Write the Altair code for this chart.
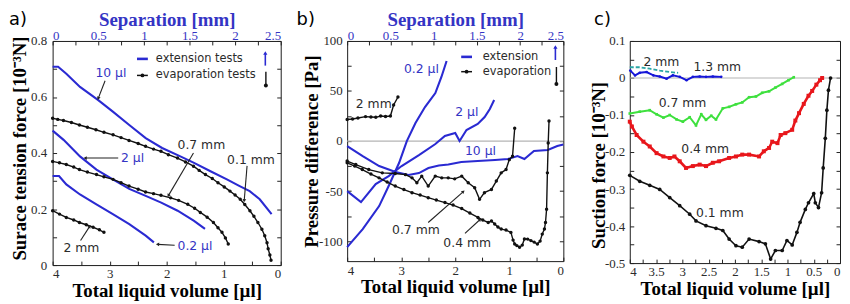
import math
import altair as alt
import pandas as pd

BLUE = "#2a2ad2"
BLUE_TXT = "#3434c4"
INK = "#2b2b2b"
SERIF = "Liberation Serif"
SANS = "DejaVu Sans"

# ---------------- Panel a : surface tension force ----------------
A10_S = [0.00, 0.06, 0.15, 0.30, 0.50, 0.66, 0.84, 1.02, 1.20, 1.40, 1.55, 1.73, 1.91, 2.05, 2.16, 2.27, 2.40]
A10_F = [0.708, 0.708, 0.683, 0.636, 0.589, 0.548, 0.500, 0.453, 0.418, 0.388, 0.365, 0.335, 0.306, 0.282, 0.264, 0.235, 0.182]
A2_S = [0.00, 0.12, 0.30, 0.48, 0.66, 0.84, 1.02, 1.19, 1.37, 1.55, 1.67]
A2_F = [0.480, 0.447, 0.388, 0.341, 0.306, 0.272, 0.247, 0.223, 0.194, 0.158, 0.129]
A02_S = [0.00, 0.07, 0.15, 0.30, 0.48, 0.66, 0.84, 1.02, 1.11]
A02_F = [0.318, 0.318, 0.288, 0.252, 0.217, 0.182, 0.146, 0.105, 0.081]

AE01_V = [4.00, 3.91, 3.81, 3.67, 3.53, 3.39, 3.24, 3.10, 2.94, 2.80, 2.66, 2.50, 2.37, 2.23, 2.10, 1.97, 1.81, 1.67, 1.53, 1.43,
          1.32, 1.20, 1.10, 0.99, 0.89, 0.80, 0.71, 0.63, 0.54, 0.47, 0.40, 0.33, 0.28, 0.24, 0.22, 0.19, 0.17]
AE01_F = [0.524, 0.520, 0.516, 0.509, 0.500, 0.492, 0.483, 0.474, 0.465, 0.455, 0.445, 0.434, 0.424, 0.414, 0.406, 0.394, 0.382, 0.368, 0.353, 0.338,
          0.323, 0.309, 0.294, 0.279, 0.264, 0.250, 0.235, 0.216, 0.194, 0.174, 0.152, 0.128, 0.105, 0.080, 0.058, 0.036, 0.017]
AE07_V = [4.00, 3.88, 3.76, 3.63, 3.53, 3.39, 3.23, 3.10, 2.94, 2.80, 2.66, 2.50, 2.37, 2.23, 2.10, 1.93, 1.79, 1.63, 1.51, 1.41,
          1.29, 1.18, 1.10, 1.03, 0.97, 0.92]
AE07_F = [0.370, 0.365, 0.359, 0.350, 0.341, 0.332, 0.323, 0.315, 0.306, 0.294, 0.282, 0.271, 0.261, 0.255, 0.249, 0.240, 0.231, 0.217, 0.203, 0.188,
          0.171, 0.152, 0.133, 0.117, 0.097, 0.075]
AE2_V = [4.00, 3.88, 3.76, 3.63, 3.53, 3.41, 3.29, 3.18, 3.10]
AE2_F = [0.194, 0.182, 0.170, 0.161, 0.152, 0.144, 0.135, 0.126, 0.117]

A_TXT = ["10 µl", "2 µl", "2 mm", "0.2 µl", "0.7 mm", "0.1 mm", "extension tests", "evaporation tests"]
A_TXT_V = [3.25, 2.80, 3.81, 1.81, 1.81, 0.94, 2.19, 2.19]
A_TXT_F = [0.687, 0.382, 0.060, 0.067, 0.428, 0.375, 0.736, 0.677]
A_ARR_V1 = [3.08, 2.85, 3.51, 1.86, 1.53, 0.59]
A_ARR_F1 = [0.658, 0.382, 0.088, 0.071, 0.400, 0.354]
A_ARR_V2 = [3.20, 3.43, 3.35, 2.16, 1.97, 0.64]
A_ARR_F2 = [0.595, 0.382, 0.138, 0.074, 0.248, 0.230]
A_LEG_V = [2.52, 2.33, 0.27, 0.26]   # dash start, dash end, arrow x (ext), arrow x (evap)
A_LEG_F = [0.736, 0.677, 0.712, 0.757, 0.690, 0.641]

# ---------------- Panel b : pressure difference ----------------
B02_S = [0.00, 0.18, 0.37, 0.48, 0.60, 0.69, 0.79, 0.90, 1.02, 1.09, 1.15]
B02_P = [-106, -88, -65, -45, -22, 0, 18, 34, 48, 64, 80]
B2_S = [0.00, 0.16, 0.33, 0.48, 0.63, 0.83, 1.02, 1.13, 1.25, 1.30, 1.38, 1.51, 1.59, 1.65, 1.70]
B2_P = [-50, -61, -43, -35, -25, -14, -3, 5, 8, 0, 11, 17, 24, 32, 41]
B10_S = [0.00, 0.18, 0.37, 0.56, 0.71, 0.83, 0.94, 1.06, 1.17, 1.32, 1.51, 1.71, 1.86, 1.97, 2.05, 2.16, 2.32, 2.43, 2.50]
B10_P = [-5, -15, -25, -31, -34, -32, -27, -24.5, -23.5, -21, -20, -19, -18, -15, -18, -10, -9, -5, -3.5]

BE2_V = [4.00, 3.90, 3.80, 3.66, 3.56, 3.47, 3.38, 3.29, 3.20, 3.14, 3.06]
BE2_P = [21.5, 22.0, 23.0, 24.4, 24.0, 23.7, 25.0, 24.5, 25.0, 36.0, 44.0]
BE07_V = [4.00, 3.84, 3.60, 3.35, 3.11, 2.92, 2.80, 2.71, 2.62, 2.50, 2.37, 2.25, 2.13, 2.01, 1.88, 1.76, 1.64, 1.55, 1.46, 1.33,
          1.24, 1.15, 1.06, 1.00, 0.94, 0.90]
BE07_P = [-20.0, -23.5, -28.5, -31.8, -32.5, -33.6, -36.8, -41.7, -35.1, -45.0, -35.1, -36.8, -36.8, -37.8, -35.1, -41.7, -46.7, -58.3, -51.6, -48.4,
          -40.0, -31.8, -28.5, -18.6, -15.2, 12.8]
BE04_V = [4.00, 3.86, 3.72, 3.56, 3.41, 3.26, 3.11, 2.95, 2.80, 2.65, 2.50, 2.35, 2.19, 2.04, 1.88, 1.73, 1.58, 1.49, 1.39, 1.33,
          1.27, 1.21, 1.15, 1.06, 0.97, 0.93, 0.90, 0.86, 0.81, 0.76, 0.72, 0.66, 0.60, 0.54, 0.48, 0.43, 0.39, 0.35, 0.33, 0.31,
          0.295, 0.28, 0.265]
BE04_P = [-21.8, -25.0, -28.5, -33.0, -36.8, -41.0, -45.0, -48.5, -51.6, -54.0, -56.6, -59.0, -61.5, -64.0, -67.5, -72.0, -76.4, -79.0, -81.4, -80.0,
          -83.0, -86.0, -88.0, -89.0, -91.3, -99.0, -102.9, -104.5, -106.1, -104.0, -97.9, -98.0, -99.5, -101.0, -102.9, -100.0, -93.0, -88.0, -81.4, -68.2,
          -31.8, -2.0, 20.0]

B_TXT = ["0.2 µl", "2 µl", "10 µl", "2 mm", "0.7 mm", "0.4 mm", "extension", "evaporation"]
B_TXT_V = [2.95, 2.00, 1.82, 3.84, 3.17, 2.22, 1.49, 1.49]
B_TXT_P = [72.0, 28.6, -10.0, 36.6, -89.3, -102.2, 84.1, 69.3]
B_ARR_V1 = [2.50, 1.82]
B_ARR_P1 = [-81.4, -92.3]
B_ARR_V2 = [1.85, 1.54]
B_ARR_P2 = [-50.6, -78.4]
B_LEG_V = [1.89, 1.69, 0.147, 0.128]
B_LEG_P = [84.1, 69.3, 81.0, 94.0, 74.0, 57.0]

# ---------------- Panel c : suction force ----------------
C01_V = [4.00, 3.81, 3.62, 3.43, 3.24, 3.05, 2.86, 2.74, 2.55, 2.36, 2.23, 2.11, 1.98, 1.86, 1.73, 1.54, 1.42, 1.32, 1.23, 1.10,
         1.01, 0.91, 0.82, 0.76, 0.66, 0.60, 0.50, 0.47, 0.41, 0.35, 0.32, 0.28, 0.25, 0.22, 0.18]
C01_S = [-0.263, -0.279, -0.290, -0.301, -0.323, -0.345, -0.368, -0.386, -0.399, -0.406, -0.412, -0.435, -0.453, -0.457, -0.435, -0.442, -0.448, -0.489, -0.466, -0.466,
         -0.439, -0.451, -0.417, -0.390, -0.355, -0.337, -0.312, -0.337, -0.350, -0.310, -0.243, -0.163, -0.087, -0.033, 0.000]
C04_V = [4.00, 3.96, 3.87, 3.74, 3.62, 3.49, 3.36, 3.24, 3.15, 3.05, 2.93, 2.80, 2.67, 2.55, 2.42, 2.30, 2.11, 1.98, 1.86, 1.73,
         1.54, 1.45, 1.35, 1.29, 1.19, 1.13, 1.04, 0.91, 0.85, 0.78, 0.69, 0.60, 0.53, 0.45, 0.38, 0.34]
C04_S = [-0.118, -0.131, -0.154, -0.172, -0.185, -0.203, -0.212, -0.216, -0.212, -0.225, -0.243, -0.238, -0.234, -0.238, -0.229, -0.225, -0.216, -0.212, -0.207, -0.207,
         -0.212, -0.198, -0.189, -0.172, -0.176, -0.154, -0.149, -0.140, -0.115, -0.095, -0.070, -0.048, -0.035, -0.018, -0.006, 0.000]
C07_V = [4.00, 3.81, 3.62, 3.49, 3.36, 3.24, 3.11, 2.99, 2.86, 2.74, 2.64, 2.55, 2.45, 2.36, 2.23, 2.11, 1.98, 1.86, 1.73, 1.60,
         1.48, 1.35, 1.23, 1.10, 0.98, 0.88]
C07_S = [-0.096, -0.091, -0.087, -0.098, -0.107, -0.100, -0.112, -0.118, -0.106, -0.128, -0.098, -0.113, -0.102, -0.112, -0.082, -0.078, -0.071, -0.066, -0.052, -0.050,
         -0.040, -0.036, -0.026, -0.016, -0.006, 0.002]
C13_V = [3.99, 3.90, 3.81, 3.68, 3.55, 3.43, 3.30, 3.18, 3.05, 2.92, 2.80, 2.67, 2.55, 2.42, 2.26]
C13_S = [0.020, 0.007, 0.014, 0.016, 0.007, 0.004, -0.002, 0.007, 0.003, -0.006, 0.003, 0.004, 0.003, 0.004, 0.003]
C2_V = [4.00, 3.81, 3.62, 3.43, 3.24, 3.08]
C2_S = [0.029, 0.029, 0.025, 0.020, 0.016, 0.014]

C_TXT = ["2 mm", "1.3 mm", "0.7 mm", "0.4 mm", "0.1 mm"]
C_TXT_V = [3.74, 2.79, 3.45, 3.02, 2.74]
C_TXT_S = [0.044, 0.030, -0.069, -0.192, -0.366]

# ---------------- sizes ----------------
WA, HA = 230, 226
WB, HB = 218, 222
WC, HC = 212, 224
YA = [0, 0.8]
YB = [-120, 100]
YC = [-0.5, 0.1]
MINUS = "\u2212"


def series_df(items, xcol, ycol):
    rows = []
    for name, xs, ys in items:
        for i, (x, y) in enumerate(zip(xs, ys)):
            rows.append({xcol: x, ycol: y, "series": name, "i": i})
    return pd.DataFrame(rows)


def vol_scale():
    return alt.Scale(domain=[0, 4], reverse=True, nice=False)


def yscale(dom):
    return alt.Scale(domain=dom, nice=False)


def axis(orient, values, expr=None, title=None, label_color=INK, title_color="black",
         labels=True, label_pad=5, title_pad=2, title_xy=None):
    kw = dict(orient=orient, values=values, domain=False, grid=False, ticks=True, tickSize=4, offset=-4,
              tickColor="#222", labels=labels, labelFont=SERIF, labelFontSize=13, labelColor=label_color,
              labelPadding=label_pad, titleFont=SERIF, titleFontSize=19, titleFontWeight="bold",
              titleColor=title_color, titlePadding=title_pad, title=title)
    if expr is not None:
        kw["labelExpr"] = expr
    if title_xy is not None:
        kw["titleX"] = title_xy[0]
        kw["titleY"] = title_xy[1]
        kw["titleBaseline"] = "middle"
    return alt.Axis(**kw)


def angle(x1, y1, x2, y2, W, H, ydom):
    dx = -(x2 - x1) * W / 4.0
    dy = -(y2 - y1) * H / (ydom[1] - ydom[0])
    return math.degrees(math.atan2(dx, -dy)) % 360


def text_layer(df, ydom):
    return alt.Chart(df).mark_text(align="left", baseline="middle", font=SANS).encode(
        x=alt.X("x:Q", scale=vol_scale(), axis=None),
        y=alt.Y("y:Q", scale=yscale(ydom), axis=None),
        text="t:N",
        color=alt.Color("c:N", scale=None),
        size=alt.Size("fs:Q", scale=None),
    )


def seg_layer(df, ydom):
    return alt.Chart(df).mark_rule().encode(
        x=alt.X("x:Q", scale=vol_scale(), axis=None), x2="x2:Q",
        y=alt.Y("y:Q", scale=yscale(ydom), axis=None), y2="y2:Q",
        color=alt.Color("c:N", scale=None),
        strokeWidth=alt.StrokeWidth("w:Q", scale=None),
    )


def head_layer(df, ydom):
    return alt.Chart(df).mark_point(filled=True, opacity=1).encode(
        x=alt.X("x:Q", scale=vol_scale(), axis=None),
        y=alt.Y("y:Q", scale=yscale(ydom), axis=None),
        shape=alt.Shape("shp:N", scale=None),
        angle=alt.Angle("ang:Q", scale=None),
        size=alt.Size("sz:Q", scale=None),
        color=alt.Color("c:N", scale=None),
    )


def label_layer(txt, dx):
    return alt.Chart(pd.DataFrame({"t": [txt]})).mark_text(
        align="left", baseline="middle", font=SANS, fontSize=18, color="black"
    ).encode(x=alt.value(dx), y=alt.value(-21), text="t:N")


def annot_frames(txt, tv, ty, tcol, fs, a1x, a1y, a2x, a2y, leg_v, leg_y, W, H, ydom):
    tdf = pd.DataFrame({"x": tv, "y": ty, "t": txt, "c": tcol, "fs": fs})
    segs = []
    heads = []
    for x1, y1, x2, y2 in zip(a1x, a1y, a2x, a2y):
        segs.append({"x": x1, "y": y1, "x2": x2, "y2": y2, "c": "#222", "w": 1.1})
        heads.append({"x": x2, "y": y2, "shp": "triangle-up", "ang": angle(x1, y1, x2, y2, W, H, ydom),
                      "sz": 14, "c": "#222"})
    segs.append({"x": leg_v[0], "y": leg_y[0], "x2": leg_v[1], "y2": leg_y[0], "c": BLUE, "w": 2.6})
    segs.append({"x": leg_v[0], "y": leg_y[1], "x2": leg_v[1], "y2": leg_y[1], "c": "#111", "w": 1.5})
    heads.append({"x": (leg_v[0] + leg_v[1]) / 2, "y": leg_y[1], "shp": "circle", "ang": 0, "sz": 14, "c": "#111"})
    segs.append({"x": leg_v[2], "y": leg_y[2], "x2": leg_v[2], "y2": leg_y[3], "c": BLUE, "w": 1.6})
    heads.append({"x": leg_v[2], "y": leg_y[3], "shp": "triangle-up", "ang": 0, "sz": 18, "c": BLUE})
    segs.append({"x": leg_v[3], "y": leg_y[4], "x2": leg_v[3], "y2": leg_y[5], "c": "#111", "w": 1.4})
    heads.append({"x": leg_v[3], "y": leg_y[5], "shp": "circle", "ang": 0, "sz": 16, "c": "#111"})
    return tdf, pd.DataFrame(segs), pd.DataFrame(heads)


def frame_layers(ext_df, ycol, evap_df, ydom, top_ax, left_ax, bottom_ax, right_ax):
    ext = alt.Chart(ext_df).mark_line(color=BLUE, strokeWidth=2.1).encode(
        x=alt.X("s:Q", scale=alt.Scale(domain=[0, 2.5], nice=False), axis=top_ax),
        y=alt.Y(f"{ycol}:Q", scale=yscale(ydom), axis=left_ax),
        detail="series:N", order="i:Q",
    )
    evl = alt.Chart(evap_df).mark_line(color="#111", strokeWidth=1.4).encode(
        x=alt.X("V:Q", scale=vol_scale(), axis=bottom_ax),
        y=alt.Y(f"{ycol}:Q", scale=yscale(ydom), axis=right_ax),
        detail="series:N", order="i:Q",
    )
    evp = alt.Chart(evap_df).mark_circle(color="#111", size=12, opacity=1).encode(
        x=alt.X("V:Q", scale=vol_scale(), axis=None),
        y=alt.Y(f"{ycol}:Q", scale=yscale(ydom), axis=None),
    )
    return ext, evl, evp


VOL_TICKS = [round(0.5 * k, 2) for k in range(9)]
SEP_TICKS = [round(0.25 * k, 2) for k in range(11)]
INT_EXPR = "datum.value % 1 == 0 ? format(datum.value, 'd') : ''"
SEP_EXPR = "round(datum.value * 4) % 2 == 0 ? format(datum.value, '~g') : ''"

# ---------- panel a ----------
a_ext = series_df([("10", A10_S, A10_F), ("2", A2_S, A2_F), ("0.2", A02_S, A02_F)], "s", "F")
a_evap = series_df([("0.1", AE01_V, AE01_F), ("0.7", AE07_V, AE07_F), ("2", AE2_V, AE2_F)], "V", "F")
a_top = axis("top", SEP_TICKS, SEP_EXPR, "Separation [mm]", label_color=BLUE_TXT, title_color=BLUE_TXT,
             label_pad=-1.5, title_xy=[WA / 2, -26])
a_left = axis("left", [round(0.1 * k, 2) for k in range(9)],
              "round(datum.value * 10) % 2 == 0 ? (datum.value == 0 ? '0' : format(datum.value, '.1f')) : ''",
              "Surace tension force [10\u207b\u00b3N]", label_pad=6, title_xy=[-37.5, 108])
a_bottom = axis("bottom", VOL_TICKS, INT_EXPR, "Total liquid volume [µl]", label_pad=3, title_pad=1)
a_right = axis("right", [round(0.1 * k, 2) for k in range(9)], labels=False)
ext, evl, evp = frame_layers(a_ext, "F", a_evap, YA, a_top, a_left, a_bottom, a_right)
tcol = [BLUE_TXT, BLUE_TXT, INK, BLUE_TXT, INK, INK, INK, INK]
tfs = [12.5] * 6 + [11.5, 11.5]
tdf, sdf, hdf = annot_frames(A_TXT, A_TXT_V, A_TXT_F, tcol, tfs, A_ARR_V1, A_ARR_F1, A_ARR_V2, A_ARR_F2,
                             A_LEG_V, A_LEG_F, WA, HA, YA)
panel_a = alt.layer(
    ext, evl, evp, seg_layer(sdf, YA), head_layer(hdf, YA), text_layer(tdf, YA), label_layer("a)", -44)
).resolve_scale(x="independent").resolve_axis(x="independent", y="independent").properties(width=WA, height=HA)

# ---------- panel b ----------
b_ext = series_df([("0.2", B02_S, B02_P), ("2", B2_S, B2_P), ("10", B10_S, B10_P)], "s", "P")
b_evap = series_df([("2", BE2_V, BE2_P), ("0.7", BE07_V, BE07_P), ("0.4", BE04_V, BE04_P)], "V", "P")
B_YT = [-100 + 25 * k for k in range(9)]
b_top = axis("top", SEP_TICKS, SEP_EXPR, "Separation [mm]", label_color=BLUE_TXT, title_color=BLUE_TXT,
             label_pad=-1.5, title_xy=[WB / 2, -26])
b_left = axis("left", B_YT, f"datum.value % 50 == 0 ? replace(format(datum.value, 'd'), '{MINUS}', '-') : ''",
              "Pressure difference [Pa]", label_pad=5, title_xy=[-40.3, 111])
b_bottom = axis("bottom", VOL_TICKS, INT_EXPR, "Total liquid volume [µl]", label_pad=3, title_pad=1)
b_right = axis("right", B_YT, labels=False)
ext, evl, evp = frame_layers(b_ext, "P", b_evap, YB, b_top, b_left, b_bottom, b_right)
zero_b = alt.Chart(pd.DataFrame({"y": [0]})).mark_rule(color="#b4b4b4", strokeWidth=1.2).encode(
    y=alt.Y("y:Q", scale=yscale(YB), axis=None))
tcol = [BLUE_TXT, BLUE_TXT, BLUE_TXT, INK, INK, INK, INK, INK]
tdf, sdf, hdf = annot_frames(B_TXT, B_TXT_V, B_TXT_P, tcol, tfs, B_ARR_V1, B_ARR_P1, B_ARR_V2, B_ARR_P2,
                             B_LEG_V, B_LEG_P, WB, HB, YB)
panel_b = alt.layer(
    zero_b, ext, evl, evp, seg_layer(sdf, YB), head_layer(hdf, YB), text_layer(tdf, YB), label_layer("b)", -51)
).resolve_scale(x="independent").resolve_axis(x="independent", y="independent").properties(width=WB, height=HB)

# ---------- panel c ----------
c_rows = []
for name, xs, ys, col, w, shp, sz in [
    ("0.1 mm", C01_V, C01_S, "#111111", 1.6, "circle", 14),
    ("0.4 mm", C04_V, C04_S, "#e8161b", 2.6, "square", 16),
    ("0.7 mm", C07_V, C07_S, "#3ee03e", 2.0, "square", 7),
    ("1.3 mm", C13_V, C13_S, "#1616d8", 2.0, "circle", 7),
]:
    for i, (x, y) in enumerate(zip(xs, ys)):
        c_rows.append({"V": x, "S": y, "series": name, "i": i, "c": col, "w": w, "shp": shp, "sz": sz})
c_df = pd.DataFrame(c_rows)
c_teal = series_df([("2 mm", C2_V, C2_S)], "V", "S")
C_YT = [round(-0.5 + 0.05 * k, 2) for k in range(13)]
C_XT = [round(0.25 * k, 2) for k in range(17)]
c_left = axis("left", C_YT,
              f"round(datum.value * 100) % 10 == 0 ? replace(format(datum.value, '~g'), '{MINUS}', '-') : ''",
              "Suction force [10\u207b\u00b3N]", label_pad=5, title_xy=[-35.3, 125])
c_right = axis("right", C_YT, labels=False)
c_bottom = axis("bottom", C_XT, SEP_EXPR, "Total liquid volume [µl]", label_pad=3, title_pad=1)
zero_c = alt.Chart(pd.DataFrame({"y": [0]})).mark_rule(color="#b4b4b4", strokeWidth=1.2).encode(
    y=alt.Y("y:Q", scale=yscale(YC), axis=None))
c_lines = alt.Chart(c_df).mark_line().encode(
    x=alt.X("V:Q", scale=vol_scale(), axis=c_bottom),
    y=alt.Y("S:Q", scale=yscale(YC), axis=c_left),
    detail="series:N", order="i:Q",
    color=alt.Color("c:N", scale=None),
    strokeWidth=alt.StrokeWidth("w:Q", scale=None),
)
c_pts = alt.Chart(c_df).mark_point(filled=True, opacity=1).encode(
    x=alt.X("V:Q", scale=vol_scale(), axis=None),
    y=alt.Y("S:Q", scale=yscale(YC), axis=None),
    color=alt.Color("c:N", scale=None),
    shape=alt.Shape("shp:N", scale=None),
    size=alt.Size("sz:Q", scale=None),
)
c_teal_line = alt.Chart(c_teal).mark_line(color="#2aa5a5", strokeWidth=1.8, strokeDash=[4, 2]).encode(
    x=alt.X("V:Q", scale=vol_scale(), axis=None),
    y=alt.Y("S:Q", scale=yscale(YC), axis=c_right),
    order="i:Q",
)
c_tdf = pd.DataFrame({"x": C_TXT_V, "y": C_TXT_S, "t": C_TXT, "c": [INK] * 5, "fs": [12.5] * 5})
panel_c = alt.layer(
    zero_c, c_teal_line, c_lines, c_pts, text_layer(c_tdf, YC), label_layer("c)", -36)
).resolve_scale(x="independent").resolve_axis(x="independent", y="independent").properties(width=WC, height=HC)

chart = alt.hconcat(panel_a, panel_b, panel_c, spacing=67, bounds="flush").properties(
    padding={"left": 0, "top": 0, "right": 0, "bottom": 0}, background="white"
).configure_view(stroke="#1a1a1a", strokeWidth=1)

chart.save("out.html", embed_options={"renderer": "svg", "actions": False})
